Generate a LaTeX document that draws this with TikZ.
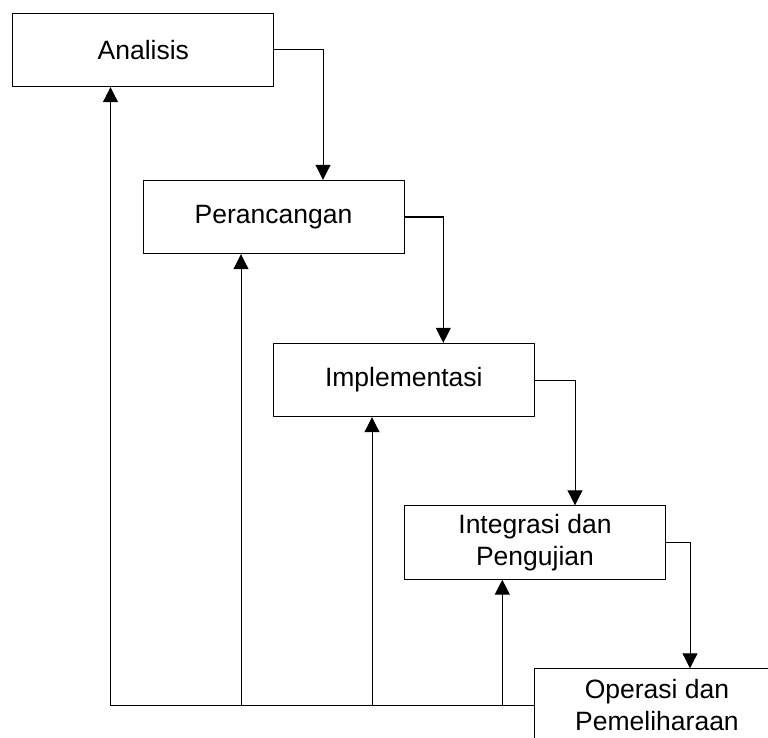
\documentclass[tikz,border=0pt]{standalone}
\usepackage{fontspec}
\setmainfont{Liberation Sans}
\usetikzlibrary{arrows.meta}
\tikzset{
  stepbox/.style={draw=black, line width=1pt, minimum width=261pt, minimum height=73.4pt, align=center, inner sep=0pt, font=\fontsize{26.5}{32}\selectfont},
  flow/.style={draw=black, line width=1pt, -{Triangle[width=15pt,length=15pt]}},
  busline/.style={draw=black, line width=1pt}
}
\begin{document}
\begin{tikzpicture}[x=1pt,y=-1pt]
\useasboundingbox (0,0) rectangle (768,738);
\clip (0,0) rectangle (768,738);
\fill[white] (0,0) rectangle (768,738);
\node[stepbox] (A) at (143.3,50) {Analisis};
\node[stepbox] (P) at (273.5,217) {Perancangan};
\node[stepbox] (I) at (403.8,380) {Implementasi};
\node[stepbox] (G) at (535,542.5) {Integrasi dan\\Pengujian};
\node[stepbox, minimum width=246pt] (O) at (657,705.5) {Operasi dan\\Pemeliharaan};
% downward connectors
\coordinate (d1) at (323,0);
\coordinate (d2) at (443.3,0);
\coordinate (d3) at (575,0);
\coordinate (d4) at (690,0);
\draw[flow] (A.east) -| (d1 |- P.north);
\draw[flow] (P.east) -| (d2 |- I.north);
\draw[flow] (I.east) -| (d3 |- G.north);
\draw[flow] (G.east) -| (d4 |- O.north);
% feedback bus
\coordinate (bl) at (110.5,705.5);
\coordinate (u2) at (241,705.5);
\coordinate (u3) at (372,705.5);
\coordinate (u4) at (502.3,705.5);
\draw[busline] (O.west) -- (bl);
\draw[flow] (bl) -- (bl |- A.south);
\draw[flow] (u2) -- (u2 |- P.south);
\draw[flow] (u3) -- (u3 |- I.south);
\draw[flow] (u4) -- (u4 |- G.south);
\end{tikzpicture}
\end{document}
